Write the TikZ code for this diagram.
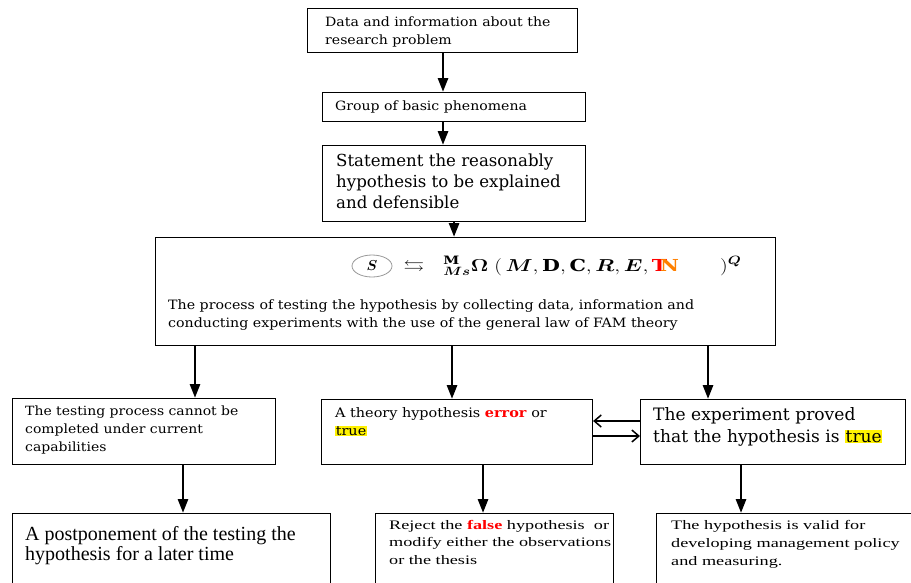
\documentclass[tikz,border=0pt]{standalone}
\usepackage{amsmath,amssymb,bm,graphicx}
\usepackage{fontspec}
\setmainfont{DejaVu Serif}
\newfontfamily\widefont[FakeStretch=1.1]{DejaVu Serif}
\newfontfamily\timesfont{Liberation Serif}
\newfontfamily\widetimes[FakeStretch=1.4]{Liberation Serif}
\usetikzlibrary{arrows.meta,shapes.geometric}

\newcommand{\hlt}[1]{{\setlength{\fboxsep}{0.6pt}\colorbox{yellow}{#1}}}
\newcommand{\redtn}{\textcolor{red}{\textbf{T}}\hspace{-0.35em}\textcolor{orange}{\textbf{N}}}

\tikzset{
  box/.style={draw, line width=1.1pt, anchor=north west, inner sep=0pt},
  txt/.style={anchor=north west, align=left, inner sep=0pt},
  down/.style={line width=2.8pt, -{Triangle[length=14pt,width=10pt]}},
  side/.style={line width=1.5pt, -{Straight Barb[length=7pt,width=12pt]}}
}

\begin{document}
\begin{tikzpicture}[x=1pt,y=-1pt]
  \useasboundingbox (0,0) rectangle (911,582);
  \clip (0,0) rectangle (911,582);

  % boxes
  \node[box, minimum width=270pt, minimum height=44pt] (data) at (307,8) {};
  \node[box, minimum width=263pt, minimum height=29pt] (group) at (322,92) {};
  \node[box, minimum width=263pt, minimum height=76pt] (state) at (322,145) {};
  \node[box, minimum width=620pt, minimum height=108pt] (test) at (155,237) {};
  \node[box, minimum width=263pt, minimum height=66pt] (cannot) at (12,398) {};
  \node[box, minimum width=271pt, minimum height=65pt] (theory) at (321,399) {};
  \node[box, minimum width=265pt, minimum height=65pt] (proved) at (640,399) {};
  \node[box, minimum width=318pt, minimum height=100pt] (later) at (12,513) {};
  \node[box, minimum width=238pt, minimum height=100pt] (reject) at (375,513) {};
  \node[box, minimum width=270pt, minimum height=100pt] (valid) at (656,513) {};

  % texts
  \node[txt, font=\widefont\fontsize{12.8}{18}\selectfont] (datatxt) at (325,17)
    {Data and information about the\\research problem};
  \node[txt, font=\widefont\fontsize{12.8}{18}\selectfont] (grouptxt) at (335,101)
    {Group of basic phenomena};
  \node[txt, font=\fontsize{16.6}{21}\selectfont] (statetxt) at (336,154)
    {Statement the reasonably\\hypothesis to be explained\\and defensible};
  \node[txt, font=\widefont\fontsize{12.9}{18}\selectfont] (testtxt) at (168,299)
    {The process of testing the hypothesis by collecting data, information and\\conducting experiments with the use of the general law of FAM theory};
  \node[txt, font=\widefont\fontsize{12.7}{18}\selectfont] (cannottxt) at (25,406)
    {The testing process cannot be\\completed under current\\capabilities};
  \node[txt, font=\widefont\fontsize{13.1}{18}\selectfont] (theorytxt) at (335,407)
    {A theory hypothesis \textcolor{red}{\textbf{error}} or\\\hlt{true}};
  \node[txt, font=\fontsize{17.1}{22}\selectfont] (provedtxt) at (653,407)
    {The experiment proved\\that the hypothesis is \hlt{true}};
  \node[txt, font=\timesfont\fontsize{20}{20}\selectfont] (latertxt) at (25,526)
    {A postponement of the testing the\\hypothesis for a later time};
  \node[txt, font=\widetimes\fontsize{13}{17.5}\selectfont] (rejecttxt) at (389,520)
    {Reject the \textcolor{red}{\textbf{false}} hypothesis\ \ or\\modify either the observations\\or the thesis};
  \node[txt, font=\widetimes\fontsize{13}{18}\selectfont] (validtxt) at (671,520)
    {The hypothesis is valid for\\developing management policy\\and measuring.};

  % general law
  \node[ellipse, draw=gray!80, line width=0.8pt, minimum width=40pt, minimum height=22pt, inner sep=0pt] (sym) at (372,266) {\fontsize{15}{18}\selectfont$\bm{S}$};
  \node[anchor=west, inner sep=0pt, font=\fontsize{16.5}{18}\selectfont] (law) at ([xshift=11pt]sym.east)
    {\scalebox{1.25}[1]{$\leftrightarrows\ \ {}^{\mathbf{M}}_{\bm{Ms}}\bm{\Omega}\;(\,\bm{M}, \mathbf{D}, \mathbf{C}, \bm{R}, \bm{E}, \mbox{\redtn}\qquad)^{\bm{Q}}$}};

  % connectors
  \coordinate (c1) at (443,0);
  \coordinate (cL) at (195,0);
  \coordinate (cM) at (452,0);
  \coordinate (cR) at (708,0);
  \coordinate (dL) at (183,0);
  \coordinate (dM) at (483,0);
  \coordinate (dR) at (741,0);
  \coordinate (r1) at (0,421);
  \coordinate (r2) at (0,436);
  \draw[down] (data.south -| c1) -- (group.north -| c1);
  \draw[down] (group.south -| c1) -- (state.north -| c1);
  \draw[down] (state.south) -- (state.south |- test.north);
  \draw[down] (test.south -| cL) -- (cannot.north -| cL);
  \draw[down] (test.south -| cM) -- (theory.north -| cM);
  \draw[down] (test.south -| cR) -- (proved.north -| cR);
  \draw[down] (cannot.south -| dL) -- (later.north -| dL);
  \draw[down] (theory.south -| dM) -- (reject.north -| dM);
  \draw[down] (proved.south -| dR) -- (valid.north -| dR);
  \draw[side] (proved.west |- r1) -- (theory.east |- r1);
  \draw[side] (theory.east |- r2) -- (proved.west |- r2);
\end{tikzpicture}
\end{document}
